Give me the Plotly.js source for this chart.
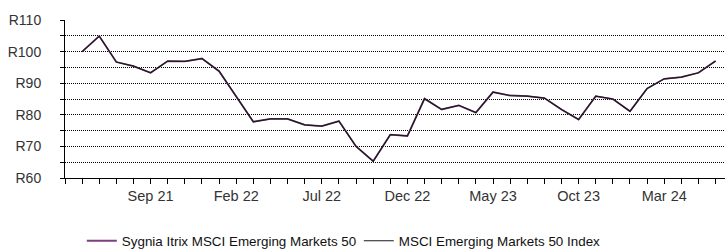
<!DOCTYPE html>
<html>
<head>
<meta charset="utf-8">
<script src="https://cdn.plot.ly/plotly-3.0.1.min.js"></script>
<style>
html,body{margin:0;padding:0;background:#fff;}
#chart{width:726px;height:251px;}
</style>
</head>
<body>
<div id="chart"></div>
<script>
const months = ["Apr 21","May 21","Jun 21","Jul 21","Aug 21","Sep 21","Oct 21","Nov 21","Dec 21","Jan 22","Feb 22","Mar 22","Apr 22","May 22","Jun 22","Jul 22","Aug 22","Sep 22","Oct 22","Nov 22","Dec 22","Jan 23","Feb 23","Mar 23","Apr 23","May 23","Jun 23","Jul 23","Aug 23","Sep 23","Oct 23","Nov 23","Dec 23","Jan 24","Feb 24","Mar 24","Apr 24","May 24","Jun 24"];
const shownLabels = ["Sep 21","Feb 22","Jul 22","Dec 22","May 23","Oct 23","Mar 24"];
const fundValues = [null,100.0,104.9,96.7,95.4,93.3,97.0,96.9,97.8,93.8,86.0,77.8,78.7,78.7,76.8,76.4,78.0,70.0,65.3,73.7,73.3,85.1,81.7,83.0,80.7,87.2,86.1,85.9,85.3,81.7,78.5,85.9,85.0,81.1,88.3,91.4,91.9,93.3,97.0];
const indexValues = [null,100.0,104.9,96.7,95.4,93.3,97.0,96.9,97.8,93.8,86.0,77.8,78.7,78.7,76.8,76.4,78.0,70.0,65.3,73.7,73.3,85.1,81.7,83.0,80.7,87.2,86.1,85.9,85.3,81.7,78.5,85.9,85.0,81.1,88.3,91.4,91.9,93.3,97.0];
const yTickValues = [60,65,70,75,80,85,90,95,100,105,110];
const yTickLabels = ["R60","","R70","","R80","","R90","","R100","","R110"];
const seriesNames = ["Sygnia Itrix MSCI Emerging Markets 50","MSCI Emerging Markets 50 Index"];

const xIdx = months.map((_, i) => i);
const xText = months.map(m => shownLabels.includes(m) ? m : "");

const traces = [
  {x: xIdx, y: fundValues, name: seriesNames[0], type: 'scatter', mode: 'lines',
   line: {color: '#7b3f7e', width: 1.8}, connectgaps: false},
  {x: xIdx, y: indexValues, name: seriesNames[1], type: 'scatter', mode: 'lines',
   line: {color: '#1a1a1a', width: 1.2}, connectgaps: false}
];

const layout = {
  width: 726, height: 251,
  margin: {l: 65, r: 1, t: 20, b: 73, autoexpand: false},
  paper_bgcolor: '#fff', plot_bgcolor: '#fff',
  font: {family: 'Liberation Sans, Arial, sans-serif', size: 13, color: '#222'},
  showlegend: true,
  legend: {orientation: 'h', x: 0.0255, xanchor: 'left', y: -0.399, yanchor: 'middle',
           font: {size: 13.4, color: '#111'}, entrywidth: 232, entrywidthmode: 'pixels'},
  xaxis: {
    range: [0, 38.55], tickmode: 'array', tickvals: xIdx, ticktext: xText,
    ticks: 'outside', ticklen: 5, tickcolor: '#000', tickwidth: 1,
    showline: true, linecolor: '#000', linewidth: 1, showgrid: false, zeroline: false,
    tickfont: {size: 14.5, color: '#333'}, fixedrange: true
  },
  yaxis: {
    range: [60, 110], tickmode: 'array', tickvals: yTickValues, ticktext: yTickLabels,
    ticks: 'outside', ticklen: 4, tickcolor: '#000',
    showline: true, linecolor: '#000', linewidth: 1,
    showgrid: true, gridcolor: '#000', griddash: '1px,1px', gridwidth: 1, zeroline: false,
    tickfont: {size: 14, color: '#333'}, ticklabelstandoff: 16, fixedrange: true
  }
};

Plotly.newPlot('chart', traces, layout, {displayModeBar: false, staticPlot: true});
</script>
</body>
</html>
